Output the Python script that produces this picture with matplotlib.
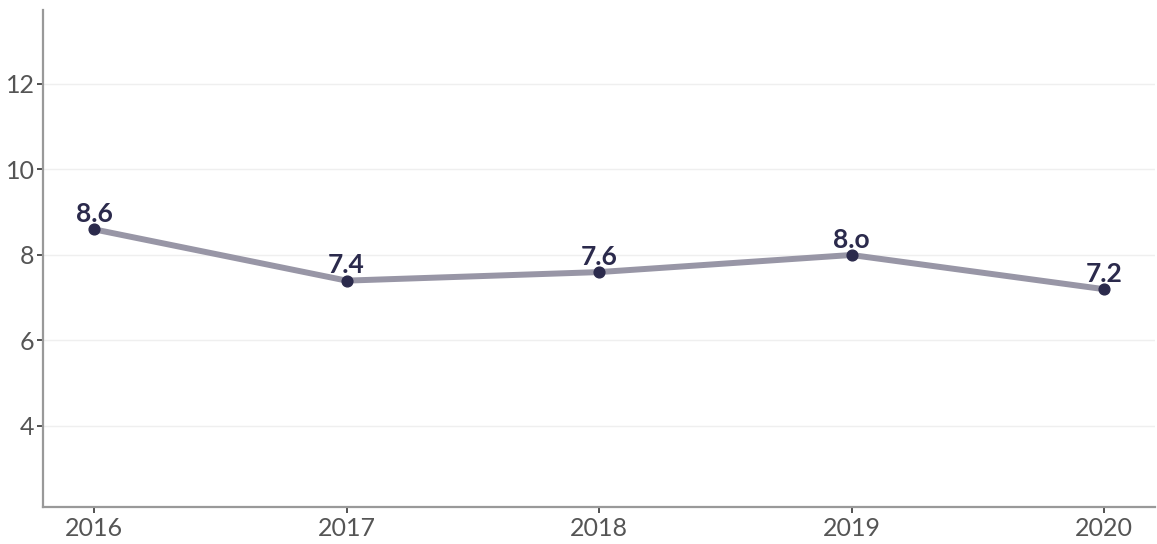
import matplotlib
matplotlib.use("Agg")
import matplotlib.pyplot as plt

years = [2016, 2017, 2018, 2019, 2020]
values = [8.6, 7.4, 7.6, 8.0, 7.2]
labels = ["8.6", "7.4", "7.6", "8.o", "7.2"]
yticks = [4, 6, 8, 10, 12]

plt.rcParams['font.family'] = ['Lato', 'DejaVu Sans']

fig = plt.figure(figsize=(11.57, 5.44), dpi=100)
ax = fig.add_axes([0.0372, 0.068, 0.9611, 0.9136])

ax.plot(years, values, color="#9896a6", lw=4.3, solid_capstyle="round", zorder=2)
ax.scatter(years, values, s=60, color="#2b2a4c", zorder=3)
for x, y, t in zip(years, values, labels):
    ax.annotate(t, (x, y), xytext=(0, 2.5), textcoords="offset points",
                ha="center", va="bottom", fontsize=19, fontweight="bold",
                color="#2b2a4c", zorder=4)

ax.set_xlim(2015.798, 2020.202)
ax.set_ylim(2.105, 13.73)
ax.set_xticks(years)
ax.set_xticklabels([str(y) for y in years])
ax.set_yticks(yticks)
ax.grid(axis="y", color="#efefef", lw=1)
ax.set_axisbelow(True)
for s in ["top", "right"]:
    ax.spines[s].set_visible(False)
for s in ["left", "bottom"]:
    ax.spines[s].set_color("#999999")
    ax.spines[s].set_linewidth(1.6)
ax.tick_params(axis="both", colors="#333333", labelcolor="#555555", labelsize=18,
               length=4, width=1.2)
ax.tick_params(axis="y", pad=2)
ax.tick_params(axis="x", pad=3)

fig.savefig("out.png", dpi=100, facecolor="white")
